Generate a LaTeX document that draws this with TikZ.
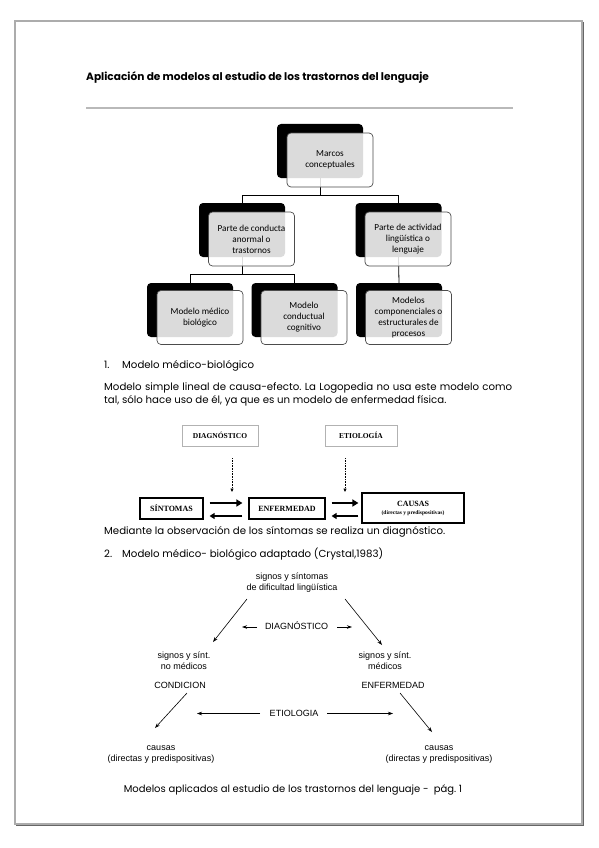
\documentclass[tikz,border=0pt]{standalone}
\usepackage{fontspec}
\setmainfont{Poppins}
\newfontfamily\fcal{Carlito}
\newfontfamily\ftimes{Liberation Serif}
\newfontfamily\farial{Liberation Sans}
\usetikzlibrary{arrows.meta,calc}
\frenchspacing
\begin{document}
\begin{tikzpicture}[x=1pt,y=-1pt,
  backbox/.style={fill=black, rounded corners=4pt, minimum width=86pt, minimum height=54pt, inner sep=0pt},
  frontbox/.style={draw=gray!60!black, fill=white, fill opacity=0.86, text opacity=1, rounded corners=4pt,
    minimum width=86pt, minimum height=54pt, line width=0.7pt, align=center, inner sep=1pt,
    font=\fcal\fontsize{9.2}{11}\selectfont},
  orgline/.style={draw=black, line width=0.8pt},
  body/.style={anchor=base west, inner sep=0pt, font=\fontsize{10.2}{12}\selectfont},
  lightbox/.style={draw=gray!60, line width=0.5pt, minimum height=21pt, inner sep=1pt,
    font=\ftimes\bfseries\fontsize{7.5}{9}\selectfont},
  darkbox/.style={draw=black, line width=1.2pt, minimum height=21pt, inner sep=1pt, align=center,
    font=\ftimes\bfseries\fontsize{8}{9}\selectfont},
  fwdarr/.style={line width=2.2pt, -{Triangle[length=6pt,width=7pt]}},
  bwdarr/.style={line width=1.5pt, -{Triangle[length=5pt,width=6pt]}},
  dotarr/.style={densely dotted, line width=0.6pt, -{Triangle[length=3.5pt,width=3pt]}},
  atext/.style={inner sep=0pt, align=center, font=\farial\fontsize{9}{11}\selectfont},
  thinarr/.style={line width=0.6pt, -{Stealth[length=5pt,width=3.5pt]}}
]
\useasboundingbox (0,0) rectangle (599,848);
\fill[white] (0,0) rectangle (599,848);
% page frame
\draw[gray!65, line width=1.2pt] (15,21) rectangle (582,824);
\draw[gray!80!black, line width=1pt] (583.5,22) -- (583.5,825.5) -- (16,825.5);

% title
\node[anchor=base west, inner sep=0pt, font=\bfseries\fontsize{10.6}{12}\selectfont] (title) at (86,81)
  {Aplicación de modelos al estudio de los trastornos del lenguaje};
\draw[gray!55, line width=1.8pt] (86,108) -- (513,108);

% org chart: back boxes
\node[backbox] (Mb) at (320,151) {};
\node[backbox] (Lb) at (242,230) {};
\node[backbox] (Rb) at (398.5,230) {};
\node[backbox] (G1b) at (190,310) {};
\node[backbox] (G2b) at (294.5,310) {};
\node[backbox] (G3b) at (399,310) {};
% connectors
\draw[orgline] (Mb.south) -- ++(0,17) -| (Lb.north);
\draw[orgline] (Mb.south) -- ++(0,17) -| (Rb.north);
\draw[orgline] (Lb.south) -- ++(0,17) -| (G1b.north);
\draw[orgline] (Lb.south) -- ++(0,17) -| (G2b.north);
\draw[orgline] (Rb.south) -- (G3b.north);
% front boxes
\node[frontbox] (Mf) at (330,160) {Marcos\\conceptuales};
\node[frontbox] (Lf) at (251.5,239) {Parte de conducta\\anormal o\\trastornos};
\node[frontbox] (Rf) at (408,239) {Parte de actividad\\lingüística o\\lenguaje};
\node[frontbox] (G1f) at (200,317.5) {Modelo médico\\biológico};
\node[frontbox] (G2f) at (304,317.5) {Modelo\\conductual\\cognitivo};
\node[frontbox] (G3f) at (408.5,317.5) {Modelos\\componenciales o\\estructurales de\\procesos};

% section 1
\node[body] (n1) at (104,368) {1.};
\node[body] (h1) at (122,368) {Modelo médico-biológico};
\node[body] (p1) at (104,390) {\makebox[408pt][s]{Modelo simple lineal de causa-efecto. La Logopedia no usa este modelo como}};
\node[body] (p2) at (104,403) {tal, sólo hace uso de él, ya que es un modelo de enfermedad física.};

% middle diagram
\node[lightbox, minimum width=76pt] (D) at (220,435.5) {DIAGNÓSTICO};
\node[lightbox, minimum width=72pt] (Et) at (361,435.5) {ETIOLOGÍA};
\node[darkbox, minimum width=63pt] (S) at (171.5,508.5) {SÍNTOMAS};
\node[darkbox, minimum width=76pt] (En) at (287,508.5) {ENFERMEDAD};
\node[darkbox, minimum width=102pt, minimum height=30pt] (C) at (413,508)
  {CAUSAS\\[-1pt]{\fontsize{5.5}{6}\selectfont(directas y predispositivas)}};
\coordinate (dt1) at (232,492);
\coordinate (dt2) at (345,492);
\draw[dotarr, shorten <=12pt] (D.south -| dt1) -- (dt1);
\draw[dotarr, shorten <=12pt] (Et.south -| dt2) -- (dt2);
\draw[fwdarr, shorten <=6pt, shorten >=6pt] ([yshift=5.5pt]S.east) -- ([yshift=5.5pt]S.east -| En.west);
\draw[bwdarr, shorten <=6pt, shorten >=6pt] ([yshift=-7.5pt]En.west) -- ([yshift=-7.5pt]En.west -| S.east);
\draw[fwdarr, shorten <=6pt, shorten >=3pt] ([yshift=5.5pt]En.east) -- ([yshift=5.5pt]En.east -| C.west);
\draw[bwdarr, shorten <=3pt, shorten >=6pt] ([yshift=-7.5pt]En.east -| C.west) -- ([yshift=-7.5pt]En.east);

\node[body] (p3) at (104,534) {Mediante la observación de los síntomas se realiza un diagnóstico.};
\node[body] (n2) at (104,557) {2.};
\node[body] (h2) at (122,557) {Modelo médico- biológico adaptado (Crystal,1983)};

% bottom diagram
\node[atext] (T) at (292,583) {signos y síntomas\\de dificultad lingüística};
\node[atext] (DG) at (296.5,626) {DIAGNÓSTICO};
\node[atext] (L) at (184,661) {signos y sínt.\\no médicos};
\node[atext] (R) at (385,661) {signos y sínt.\\médicos};
\node[atext] (CO) at (180,685.5) {CONDICION};
\node[atext] (EF) at (393,685.5) {ENFERMEDAD};
\node[atext] (ET) at (294,713.5) {ETIOLOGIA};
\node[atext] (CL) at (161,755) {causas\\(directas y predispositivas)};
\node[atext] (CR) at (439,755) {causas\\(directas y predispositivas)};

\draw[thinarr] ([shift={(-45,16)}]T.center) -- ([shift={(29,-19)}]L.center);
\draw[thinarr] ([shift={(53,16)}]T.center) -- ([shift={(-3,-16)}]R.center);
\draw[thinarr] ([shift={(7,7.5)}]CO.center) -- ([shift={(-6,-27)}]CL.center);
\draw[thinarr] ([shift={(7,7.5)}]EF.center) -- ([shift={(-7,-23)}]CR.center);
\draw[thinarr, line width=0.8pt] ([shift={(-39.5,1)}]DG.center) -- ([shift={(-54.5,1)}]DG.center);
\draw[thinarr, line width=0.8pt] ([shift={(40.5,1)}]DG.center) -- ([shift={(55.5,1)}]DG.center);
\draw[thinarr, line width=0.5pt] ([shift={(-34,0)}]ET.center) -- ([shift={(-97,0)}]ET.center);
\draw[thinarr, line width=0.5pt] ([shift={(33,0)}]ET.center) -- ([shift={(99,0)}]ET.center);

% footer
\node[anchor=base, inner sep=0pt, font=\fontsize{10}{12}\selectfont] (foot) at (293,792)
  {Modelos aplicados al estudio de los trastornos del lenguaje -\ \ pág. 1};
\end{tikzpicture}
\end{document}
